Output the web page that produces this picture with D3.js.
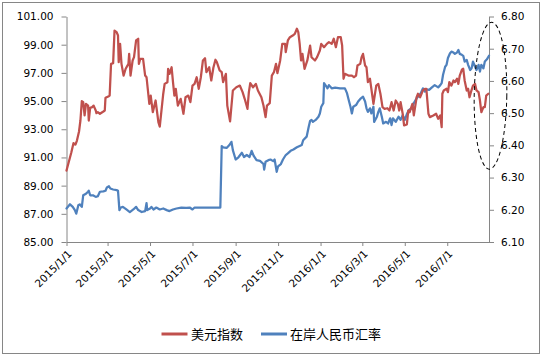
<!DOCTYPE html>
<html><head><meta charset="utf-8">
<script src="https://cdn.jsdelivr.net/npm/d3@7"></script>
<style>
html,body{margin:0;padding:0;background:#fff;}
svg{display:block;}
.axis text{font-family:"DejaVu Sans",Verdana,sans-serif;font-size:10.5px;fill:#000;}
.axis path,.axis line{stroke:#868686;}
.legend text{font-family:"Noto Sans CJK SC",sans-serif;font-size:13px;fill:#000;}
</style></head>
<body>
<script>
const seriesNames = ["美元指数", "在岸人民币汇率"];
const seriesColors = ["#C0504D", "#4F81BD"];

const redDates = ["2015-01-01","2015-01-08","2015-01-11","2015-01-14","2015-01-16","2015-01-19","2015-01-21","2015-01-23","2015-01-25","2015-01-27","2015-01-29","2015-02-01","2015-02-02","2015-02-04","2015-02-07","2015-02-09","2015-02-12","2015-02-13","2015-02-15","2015-02-18","2015-02-23","2015-02-25","2015-02-26","2015-03-02","2015-03-04","2015-03-06","2015-03-09","2015-03-11","2015-03-14","2015-03-16","2015-03-17","2015-03-19","2015-03-21","2015-03-24","2015-03-27","2015-03-31","2015-04-01","2015-04-03","2015-04-06","2015-04-08","2015-04-11","2015-04-14","2015-04-15","2015-04-17","2015-04-21","2015-04-24","2015-04-26","2015-04-30","2015-05-02","2015-05-05","2015-05-09","2015-05-13","2015-05-15","2015-05-20","2015-05-22","2015-05-26","2015-05-27","2015-05-29","2015-06-01","2015-06-03","2015-06-05","2015-06-07","2015-06-10","2015-06-14","2015-06-18","2015-06-21","2015-06-25","2015-06-28","2015-07-01","2015-07-04","2015-07-07","2015-07-10","2015-07-13","2015-07-16","2015-07-19","2015-07-21","2015-07-25","2015-07-28","2015-07-31","2015-08-03","2015-08-05","2015-08-09","2015-08-12","2015-08-14","2015-08-18","2015-08-20","2015-08-24","2015-08-28","2015-09-02","2015-09-07","2015-09-11","2015-09-14","2015-09-18","2015-09-20","2015-09-22","2015-09-26","2015-09-30","2015-10-03","2015-10-08","2015-10-11","2015-10-14","2015-10-16","2015-10-20","2015-10-23","2015-10-26","2015-10-29","2015-10-31","2015-11-04","2015-11-07","2015-11-11","2015-11-12","2015-11-15","2015-11-18","2015-11-22","2015-11-25","2015-11-28","2015-11-30","2015-12-02","2015-12-04","2015-12-06","2015-12-09","2015-12-13","2015-12-17","2015-12-19","2015-12-24","2015-12-27","2015-12-31","2016-01-02","2016-01-06","2016-01-10","2016-01-13","2016-01-17","2016-01-20","2016-01-23","2016-01-26","2016-01-30","2016-02-01","2016-02-03","2016-02-05","2016-02-10","2016-02-15","2016-02-18","2016-02-21","2016-02-23","2016-02-27","2016-02-29","2016-03-02","2016-03-05","2016-03-07","2016-03-09","2016-03-12","2016-03-14","2016-03-17","2016-03-21","2016-03-24","2016-03-27","2016-03-30","2016-04-02","2016-04-06","2016-04-09","2016-04-12","2016-04-15","2016-04-18","2016-04-21","2016-04-23","2016-04-25","2016-04-28","2016-04-30","2016-05-04","2016-05-06","2016-05-08","2016-05-12","2016-05-14","2016-05-18","2016-05-20","2016-05-23","2016-05-27","2016-05-30","2016-06-01","2016-06-04","2016-06-06","2016-06-11","2016-06-15","2016-06-18","2016-06-21","2016-06-23","2016-06-24","2016-06-26","2016-06-30","2016-07-02","2016-07-04","2016-07-07","2016-07-10","2016-07-12","2016-07-15","2016-07-17","2016-07-19","2016-07-22","2016-07-24","2016-07-26","2016-07-29","2016-07-31","2016-08-02","2016-08-04","2016-08-07","2016-08-10","2016-08-12","2016-08-15","2016-08-17","2016-08-19","2016-08-22","2016-08-24","2016-08-26","2016-08-29"];
const redValues = [90.07,91.37,92.01,91.92,92.20,92.84,93.62,94.99,94.92,93.98,94.80,94.68,93.62,94.52,94.57,94.68,94.33,94.14,94.21,94.10,94.26,94.33,95.23,95.32,95.39,97.64,97.69,100.0,99.89,99.65,97.76,99.06,97.64,96.81,97.29,97.64,98.35,96.81,97.88,98.12,99.30,99.42,97.64,98.0,98.0,96.81,96.69,94.80,95.39,94.21,95.04,93.50,93.19,95.52,96.22,96.34,97.29,96.93,97.40,96.34,95.39,95.87,94.68,95.16,94.10,95.27,95.39,94.92,96.10,96.22,96.69,95.87,96.69,97.88,98.04,97.05,97.40,96.46,97.36,97.93,97.76,97.17,97.05,96.34,96.93,94.68,93.56,95.75,95.98,96.10,95.63,95.16,94.45,95.63,96.27,95.98,96.22,95.75,95.27,94.68,93.86,94.68,94.85,96.81,97.05,97.64,96.98,97.88,99.06,99.06,98.47,99.30,99.53,99.65,99.77,100.13,99.89,99.06,97.88,98.35,97.29,97.88,98.94,98.11,97.88,98.12,98.59,99.06,98.82,99.06,99.18,99.06,99.42,98.82,99.53,99.53,98.94,96.58,96.93,96.81,96.81,96.69,96.81,97.52,97.64,98.12,98.35,97.52,97.40,96.34,96.58,95.87,94.80,96.10,96.22,95.52,94.57,94.45,94.49,94.33,94.92,94.33,95.04,94.80,94.33,94.92,94.10,93.27,93.34,94.33,94.21,94.80,93.98,95.27,95.52,95.27,95.75,95.87,95.87,94.10,93.86,93.98,94.10,93.74,93.98,93.15,95.52,95.75,95.87,95.63,96.34,96.10,96.46,96.34,96.58,96.22,96.81,97.22,97.29,96.46,95.75,95.87,95.27,95.63,96.10,96.22,95.75,95.63,95.04,94.21,94.57,94.57,95.39,95.52];

const blueDates = ["2015-01-01","2015-01-06","2015-01-10","2015-01-13","2015-01-15","2015-01-18","2015-01-20","2015-01-23","2015-01-25","2015-01-29","2015-02-01","2015-02-02","2015-02-04","2015-02-08","2015-02-12","2015-02-15","2015-02-18","2015-02-23","2015-02-26","2015-02-28","2015-03-03","2015-03-05","2015-03-09","2015-03-14","2015-03-16","2015-03-18","2015-03-20","2015-03-23","2015-03-28","2015-04-02","2015-04-07","2015-04-11","2015-04-14","2015-04-19","2015-04-24","2015-04-26","2015-04-27","2015-05-01","2015-05-03","2015-05-06","2015-05-10","2015-05-15","2015-05-20","2015-05-25","2015-05-29","2015-06-03","2015-06-08","2015-06-15","2015-06-22","2015-06-27","2015-07-01","2015-07-04","2015-08-10","2015-08-12","2015-08-14","2015-08-19","2015-08-23","2015-08-26","2015-08-28","2015-09-01","2015-09-05","2015-09-10","2015-09-13","2015-09-17","2015-09-21","2015-09-24","2015-09-27","2015-10-01","2015-10-06","2015-10-11","2015-10-12","2015-10-14","2015-10-18","2015-10-21","2015-10-25","2015-10-27","2015-10-30","2015-11-01","2015-11-05","2015-11-08","2015-11-12","2015-11-15","2015-11-19","2015-11-23","2015-11-28","2015-12-02","2015-12-05","2015-12-07","2015-12-12","2015-12-15","2015-12-17","2015-12-19","2015-12-21","2015-12-25","2015-12-29","2015-12-31","2016-01-02","2016-01-05","2016-01-06","2016-01-09","2016-01-11","2016-01-13","2016-01-17","2016-01-22","2016-01-29","2016-02-05","2016-02-08","2016-02-11","2016-02-13","2016-02-15","2016-02-17","2016-02-21","2016-02-24","2016-02-28","2016-03-02","2016-03-05","2016-03-07","2016-03-09","2016-03-12","2016-03-14","2016-03-17","2016-03-18","2016-03-22","2016-03-24","2016-03-26","2016-03-29","2016-03-31","2016-04-04","2016-04-07","2016-04-10","2016-04-12","2016-04-14","2016-04-18","2016-04-22","2016-04-25","2016-04-28","2016-05-01","2016-05-04","2016-05-07","2016-05-11","2016-05-14","2016-05-18","2016-05-20","2016-05-24","2016-05-27","2016-05-30","2016-06-01","2016-06-05","2016-06-09","2016-06-13","2016-06-18","2016-06-21","2016-06-23","2016-06-25","2016-06-28","2016-06-30","2016-07-02","2016-07-05","2016-07-07","2016-07-10","2016-07-12","2016-07-15","2016-07-17","2016-07-19","2016-07-22","2016-07-24","2016-07-26","2016-07-29","2016-07-31","2016-08-03","2016-08-05","2016-08-07","2016-08-10","2016-08-12","2016-08-15","2016-08-17","2016-08-19","2016-08-22","2016-08-24","2016-08-27","2016-08-30"];
const blueValues = [6.204,6.217,6.209,6.199,6.188,6.214,6.217,6.209,6.245,6.250,6.256,6.259,6.245,6.245,6.240,6.242,6.256,6.257,6.259,6.269,6.273,6.266,6.263,6.261,6.259,6.199,6.207,6.209,6.201,6.193,6.201,6.209,6.199,6.193,6.196,6.221,6.199,6.204,6.209,6.201,6.207,6.201,6.204,6.199,6.196,6.201,6.204,6.207,6.206,6.207,6.201,6.207,6.207,6.398,6.394,6.392,6.401,6.411,6.385,6.356,6.363,6.377,6.364,6.370,6.364,6.383,6.367,6.354,6.352,6.342,6.325,6.349,6.354,6.356,6.351,6.356,6.318,6.335,6.342,6.356,6.370,6.375,6.383,6.387,6.394,6.398,6.401,6.416,6.427,6.458,6.476,6.479,6.473,6.479,6.489,6.499,6.520,6.531,6.593,6.584,6.577,6.587,6.577,6.579,6.577,6.577,6.562,6.536,6.520,6.499,6.520,6.525,6.536,6.546,6.551,6.536,6.515,6.504,6.515,6.499,6.520,6.473,6.489,6.504,6.515,6.489,6.468,6.473,6.468,6.484,6.463,6.484,6.473,6.489,6.479,6.494,6.479,6.497,6.510,6.515,6.531,6.546,6.551,6.562,6.577,6.567,6.574,6.572,6.580,6.587,6.580,6.587,6.593,6.619,6.644,6.650,6.671,6.686,6.691,6.688,6.684,6.688,6.696,6.684,6.681,6.678,6.660,6.665,6.650,6.634,6.639,6.660,6.644,6.634,6.650,6.629,6.650,6.639,6.660,6.667,6.678];

const xTickDates = ["2015-01-01","2015-03-01","2015-05-01","2015-07-01","2015-09-01","2015-11-01","2016-01-01","2016-03-01","2016-05-01","2016-07-01"];
const xTickLabels = ["2015/1/1","2015/3/1","2015/5/1","2015/7/1","2015/9/1","2015/11/1","2016/1/1","2016/3/1","2016/5/1","2016/7/1"];
const xDomain = ["2015-01-01","2016-08-30"];
const leftTicks = [85,87,89,91,93,95,97,99,101];
const rightTicks = [6.10,6.20,6.30,6.40,6.50,6.60,6.70,6.80];

const W = 543, H = 357;
const plot = {left: 66.5, right: 489, top: 16.5, bottom: 242};
const parse = d3.timeParse("%Y-%m-%d");

const svg = d3.select("body").append("svg").attr("width", W).attr("height", H);

svg.append("rect").attr("x", 2.5).attr("y", 2.5).attr("width", 537).attr("height", 351)
  .attr("fill", "#fff").attr("stroke", "#868686").attr("stroke-width", 1);

const x = d3.scaleTime().domain(xDomain.map(parse)).range([plot.left, plot.right]);
const yL = d3.scaleLinear().domain([85, 101]).range([plot.bottom, plot.top]);
const yR = d3.scaleLinear().domain([6.1, 6.8]).range([plot.bottom, plot.top]);

// axes
const gL = svg.append("g").attr("class", "axis").attr("transform", `translate(${plot.left},0)`)
  .call(d3.axisLeft(yL).tickValues(leftTicks).tickFormat(d3.format(".2f")).tickSize(5).tickSizeOuter(0).tickPadding(8));
const gR = svg.append("g").attr("class", "axis").attr("transform", `translate(${plot.right},0)`)
  .call(d3.axisRight(yR).tickValues(rightTicks).tickFormat(d3.format(".2f")).tickSize(5).tickSizeOuter(0).tickPadding(7));
const xTicks = xTickDates.map(parse);
const gB = svg.append("g").attr("class", "axis").attr("transform", `translate(0,${plot.bottom})`)
  .call(d3.axisBottom(x).tickValues(xTicks).tickFormat((d, i) => xTickLabels[i]).tickSize(4).tickSizeOuter(0));
gB.selectAll(".tick text")
  .attr("text-anchor", "end")
  .attr("x", 0).attr("y", 0).attr("dy", "0.35em")
  .attr("transform", "translate(3,10) rotate(-45)");
[gL, gR, gB].forEach(g => g.select(".domain").attr("stroke", "#868686"));

// lines
const redData = redDates.map((d, i) => ({date: parse(d), value: redValues[i]}));
const blueData = blueDates.map((d, i) => ({date: parse(d), value: blueValues[i]}));

svg.append("path").datum(blueData)
  .attr("fill", "none").attr("stroke", seriesColors[1]).attr("stroke-width", 2.25)
  .attr("stroke-linejoin", "round").attr("stroke-linecap", "round")
  .attr("d", d3.line().x(d => x(d.date)).y(d => yR(d.value)));
svg.append("path").datum(redData)
  .attr("fill", "none").attr("stroke", seriesColors[0]).attr("stroke-width", 2.25)
  .attr("stroke-linejoin", "round").attr("stroke-linecap", "round")
  .attr("d", d3.line().x(d => x(d.date)).y(d => yL(d.value)));

// dashed ellipse annotation (around the latest readings on the right axis)
const ellTop = yR(6.782), ellBottom = yR(6.326);
const ecx = x(parse(xDomain[1])) + 1.5, ecy = (ellTop + ellBottom) / 2;
svg.append("ellipse")
  .attr("cx", 0).attr("cy", 0).attr("rx", 16.3).attr("ry", (ellBottom - ellTop) / 2)
  .attr("transform", `translate(${ecx},${ecy}) rotate(0.9)`)
  .attr("fill", "none").attr("stroke", "#000").attr("stroke-width", 1)
  .attr("stroke-dasharray", "4,3");

// legend
const legend = svg.append("g").attr("class", "legend");
const legendItems = [{x: 161.5, tx: 191}, {x: 261, tx: 290}];
legendItems.forEach((it, i) => {
  legend.append("line").attr("x1", it.x).attr("x2", it.x + 26).attr("y1", 334).attr("y2", 334)
    .attr("stroke", seriesColors[i]).attr("stroke-width", 3);
  legend.append("text").attr("x", it.tx).attr("y", 334).attr("dy", "0.36em").text(seriesNames[i]);
});
</script>
</body></html>
